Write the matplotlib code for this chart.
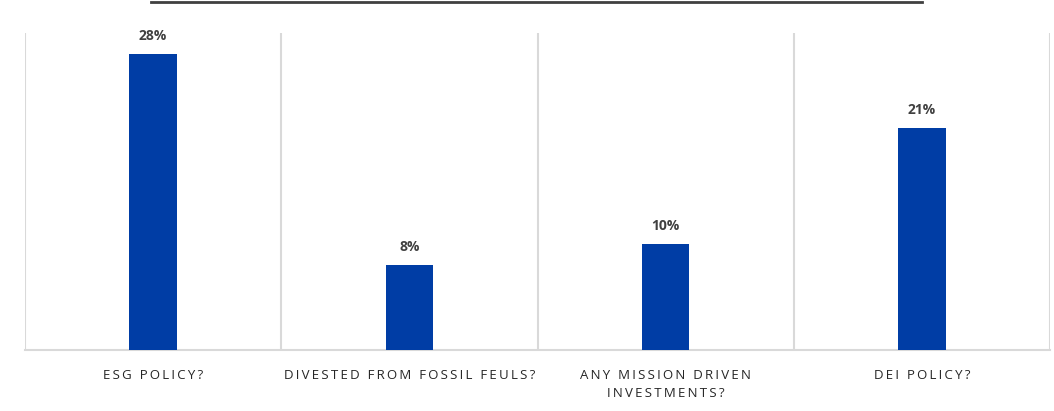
import matplotlib.pyplot as plt
from matplotlib.lines import Line2D

categories = ["ESG POLICY?", "DIVESTED FROM FOSSIL FEULS?",
              "ANY MISSION DRIVEN\nINVESTMENTS?", "DEI POLICY?"]
values = [28, 8, 10, 21]
value_labels = ["28%", "8%", "10%", "21%"]

plt.rcParams['font.family'] = ['Open Sans', 'DejaVu Sans']


def tracked(text, gap='\u2009'):
    # widen letter spacing with thin spaces, line by line
    return '\n'.join(gap.join(line) for line in text.split('\n'))


fig = plt.figure(figsize=(10.54, 4.11), dpi=100)
ax = fig.add_axes([25 / 1054, 1 - 350 / 411, 1025 / 1054, 317 / 411])

xs = list(range(len(categories)))
bars = ax.bar(xs, values, width=0.185, color='#003DA5', zorder=3)

for bar, lab in zip(bars, value_labels):
    ax.annotate(lab, (bar.get_x() + bar.get_width() / 2, bar.get_height()),
                xytext=(0, 8), textcoords='offset points', ha='center', va='bottom',
                fontsize=10, fontweight='bold', color='#404040')

ax.set_xlim(-0.5, len(categories) - 0.5)
ax.set_ylim(0, 30.0)
ax.set_yticks([])

# vertical separators between categories
for b in [x - 0.5 for x in xs] + [len(categories) - 0.5]:
    ax.axvline(b, color='#D9D9D9', lw=1.5, zorder=1)

ax.set_xticks(xs)
ax.set_xticklabels([tracked(c) for c in categories], fontsize=9.5,
                   color='#262626', linespacing=1.5)
ax.tick_params(axis='x', length=0, pad=14)

for s in ['top', 'left', 'right']:
    ax.spines[s].set_visible(False)
ax.spines['bottom'].set_color('#D9D9D9')
ax.spines['bottom'].set_linewidth(1.5)

# rule across the top of the figure
fig.add_artist(Line2D([151 / 1054, 922 / 1054], [1 - 2 / 411, 1 - 2 / 411],
                      color='#404040', lw=2))

fig.savefig('out.png', dpi=100)
